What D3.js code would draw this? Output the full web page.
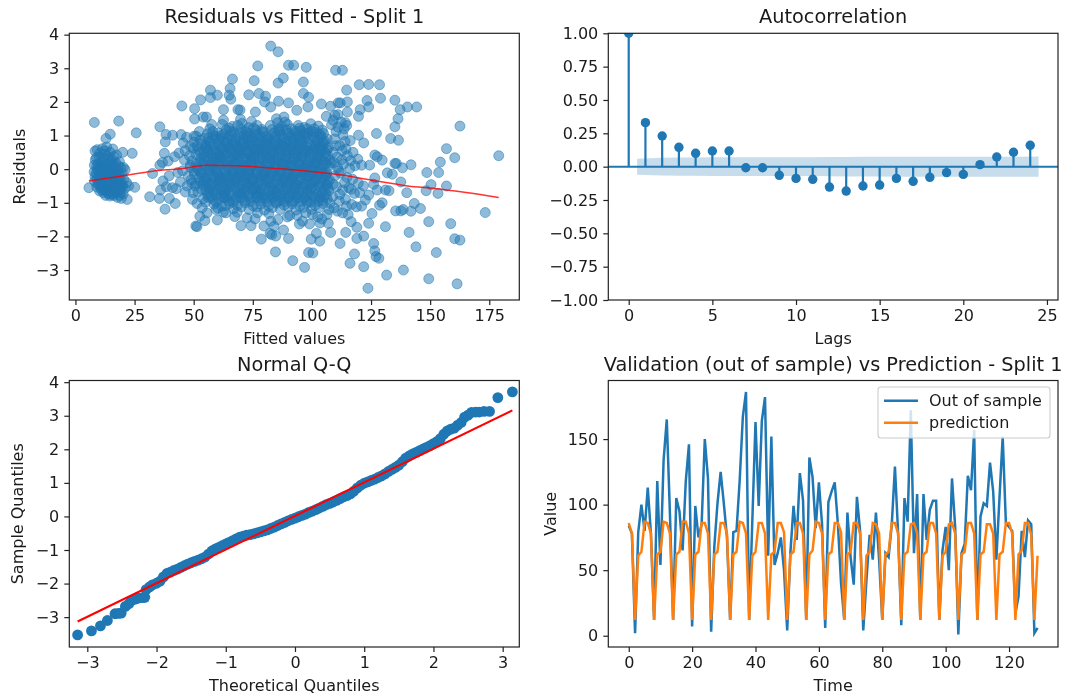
<!DOCTYPE html>
<html lang="en">
<head>
<meta charset="utf-8">
<script src="https://d3js.org/d3.v7.min.js"></script>
<style>
  body { margin: 0; background: #fff; }
  svg { display: block; filter: blur(0.5px); }
  text { font-family: "DejaVu Sans", sans-serif; fill: #1a1a1a; }
</style>
</head>
<body>
<script>
// residuals vs fitted, [fitted, residual] (the dense middle is estimated)
var residOuter = [
[5.7,-.55],[8,1.39],[18.3,1.43],[25.7,1.08],[14.7,1.04],[12.9,.91],[8.3,.54],[20,.5],[24,.47],[25.1,-.54],[21.9,-.9],
[82.6,3.66],[85.7,3.49],[77.1,3.07],[90.1,3.09],[92.3,3.09],[97.6,3.03],[110,2.94],[112.9,2.94],[87.9,2.71],[85.7,2.56],[75.6,2.63],[66.4,2.68],[96.4,2.59],[120,2.51],[124,2.52],[128.6,2.51],[114.7,2.35],[57.1,2.35],[65.4,2.4],[65,2.2],[77.6,2.25],[73.3,2.21],[96.4,2.25],[80.4,2.17],[57.1,2.13],[60,2.2],[65.7,2.08],[52.9,2.06],[98.6,2.14],[129,2.11],[135.1,2.05],[123.3,2.04],[85.9,2.02],[80,2],[111.1,1.97],[112,1.97],[115,2],[90.1,1.97],[104,1.94],[45,1.88],[140.4,1.85],[144.3,1.85],[107.9,1.87],[124,1.85],[137.3,1.77],[120.4,1.77],[50.4,1.8],[62.6,1.77],[68.7,1.77],[69.6,1.76],[93.6,1.75],[98.3,1.85],[82.6,1.85],[76.1,1.7],[115,1.7],[111,1.62],[119.7,1.57],[136.4,1.5],[50.4,1.49],[54,1.55],[55.4,1.55],[62.6,1.46],[106.1,1.57],[109.7,1.6],[57.6,1.33],[35.7,1.26],[135.1,1.26],[162.6,1.28],[38.3,1.03],[127.3,1.06],[119.7,1.01],[133.3,.91],[136.6,.86],[38,.81],[121.9,.78],[44.7,1.03],[41.1,1.01],[156.9,.61],[160.4,.34],[179,.4],[154.3,.21],[141.9,.13],[135.1,.17],[135.7,.17],[138.3,.04],[126.6,.42],[129.7,.27],[127.6,.37],[124.4,.12],[131.9,-.11],[148.6,-.1],[153.6,-.1],[134,-.15],[126.6,-.26],[126.1,-.45],[137.6,-.38],[150.4,-.46],[156.9,-.5],[127.6,-.62],[131.1,-.62],[132.6,-.64],[140.1,-.7],[148.3,-.64],[153.3,-.72],[124,-.77],[122.6,-.92],[129.7,-1],[128.6,-1.07],[143.3,-1.02],[145.9,-1.17],[135.4,-1.24],[137.6,-1.24],[138.6,-1.2],[141.9,-1.25],[173.3,-1.29],[125.4,-1.32],[149.4,-1.56],[158.7,-1.62],[131.1,-1.71],[124,-1.61],[141.1,-1.88],[160.4,-2.07],[162.6,-2.11],[144,-2.31],[152.6,-2.48],[126.1,-2.21],[126.6,-2.43],[127.1,-2.6],[128.3,-2.65],[121.9,-1.99],[119,-2.06],[111.9,-2.21],[118,-2.52],[116.1,-2.8],[121.9,-2.9],[138.7,-3],[131.6,-3.15],[149.4,-3.26],[161.4,-3.41],[123.7,-3.54],[91.9,-2.72],[96.9,-2.92],[98.6,-2.48],[100.4,-2.49],[84.6,-2.46],[78.6,-2.08],[90.1,-2.06],[99.7,-2.08],[103.3,-2.14],[101.9,-1.91],[107.9,-1.88],[114.3,-1.88],[82.3,-1.91],[84.7,-1.99],[83,-1.95],[88,-1.81],[79.7,-1.69],[70,-1.68],[74.3,-1.68],[50.9,-1.69],[51.4,-1.71],[54.7,-1.53],[60,-1.51],[67.4,-1.41],[52.6,-1.4],[94.7,-1.63],[99,-1.63],[106.9,-1.61],[116.6,-1.56],[119,-1.73],[37.9,-1.19],[42.2,-1.02],[31.4,-.82],[35.5,-.87],[39.7,-.87],[32.6,-.13],[35.7,.12],[37.6,.47],[41.9,.37],[46.1,.27]
];
var residLeft = [
[9.2,.58],[11.4,.61],[13.2,.66],[15.8,.6],[17.4,.42],[8.4,.28],[10.1,.36],[12.3,.44],[14.2,.31],[16.1,.38],[18.6,.22],[20.3,.05],[8,.12],[9.6,.17],[11.2,.22],[13.1,.16],[15.2,.13],[17,.19],[19.2,.04],[7.9,-.08],[9.3,-.03],[10.8,.05],[12.4,-.06],[14.1,-.01],[15.9,-.08],[17.7,-.04],[19.8,-.13],[21,-.02],[8.3,-.22],[9.9,-.17],[11.5,-.24],[13.4,-.15],[15.1,-.26],[16.8,-.19],[18.5,-.27],[20.4,-.3],[8.1,-.36],[9.4,-.41],[11,-.33],[12.7,-.42],[14.5,-.36],[16.2,-.44],[18,-.38],[19.6,-.46],[21.6,-.4],[9,-.53],[10.6,-.5],[12.2,-.58],[13.9,-.51],[15.6,-.6],[17.3,-.54],[19,-.62],[20.8,-.58],[22.5,-.5],[10.2,-.65],[11.8,-.7],[13.5,-.66],[15.1,-.75],[16.9,-.69],[18.6,-.78],[20.2,-.74],[12.8,-.78],[14.6,-.8],[17.8,-.84],[19.4,-.87],
[9.6,.03],[11.7,.08],[13.8,.04],[16.3,.02],[10.4,-.12],[12.9,-.19],[14.8,-.12],[17.1,-.14],[10.1,-.27],[12,-.3],[13.9,-.29],[16,-.33],[17.9,-.22],[10.8,-.44],[13.2,-.5],[15.1,-.48],[17,-.46],[18.8,-.52],[11.4,-.58],[14.3,-.6],[16.4,-.63],[18,-.66],[12.6,-.65],[15.8,-.72],
[9,.1],[10.9,.14],[12.6,.09],[14.7,.2],[16.6,.1],[18.1,.1],[8.7,-.12],[11,-.16],[13.3,-.05],[15.4,-.18],[18.6,-.15],[9.2,-.3],[11.2,-.42],[13.6,-.38],[15.5,-.38],[17.5,-.31],[19.3,-.36],[9.7,-.47],[12,-.5],[14.2,-.45],[16,-.53],[18.2,-.57],[20,-.5],[11,-.62],[13,-.6],[14.9,-.66],[17,-.62],[19.2,-.7],[13.9,-.73],[16.2,-.78],[8.9,.34],[11.6,.32],[13.6,.38],[15.5,.28],[10.4,.48],[12.4,.54],[14.7,.5]
];
var residSides = [
[36,-.62],[38.4,-.52],[41,-.55],[42.6,-.58],[37,-.35],[39.6,-.2],[43.3,-.1],[36.8,.2],[39.2,.24],[43.8,.48],[45.6,.78],[47,.95],[46.4,.55],[48.2,.4],[44.4,-.38],[46.5,-.68],[47.7,-.2],[45.3,-.05],[48.6,.12],[49.2,-.42],[49.5,-.9],[48.6,.68],[50.2,.98],[49.8,-.7],[47.2,-.5],[51.4,-1.02],[53.6,-1.15],[55.6,-1.3],
[108.3,1.32],[110.2,1.12],[112.4,1.4],[114.7,1.3],[116.2,.85],[113.1,1.02],[109.6,.9],[111.7,.7],[114,.82],[108.8,.5],[110.7,.36],[112.8,.55],[115,.4],[117.4,.5],[119.4,.3],[121,.12],[118.2,.1],[116,.02],[113.4,.15],[110.9,.05],[108.2,.18],[109.7,-.2],[112.1,-.12],[114.8,-.25],[117.2,-.3],[119.6,-.42],[121.8,-.5],[110.4,-.52],[113,-.62],[115.6,-.55],[118,-.72],[120.2,-.7],[108.7,-.82],[111.6,-.95],[114.2,-.9],[116.8,-1.05],[118.8,-1.12],[109.4,-1.15],[113,-1.3],[115.3,-1.35],[121,-1.1],[106.4,-1.35],[104.2,-1.48],[102.4,-1.42],[107.2,-1.2],[100.2,-1.35],[97.4,-1.3],[93.8,-1.38],[89.6,-1.42],[85.6,-1.5],[81.8,-1.32],[77,-1.3],[72.6,-1.45],[68.4,-1.28],[63.6,-1.3],[59.4,-1.2],[62.5,-1.28],[76,-1.48],[82.6,-1.55],[84,-1.7],[90.6,-1.38],[96,-1.55],[103.4,-1.6],
[109,1.45],[111,1.25],[113.6,1.2],[114.2,1.38],[110,.7],[112.6,.28],[114.4,.6],[116.4,.25],[109.3,.2],[111.4,-.05],[113.8,-.4],[116.5,-.6],[109,-.45],[111.8,-.75],[114.6,-1.1],[107.6,-1.02],[110.8,-1.25]
];
var residCore = [
[62.1,1.33],[66.3,1.27],[70.4,1.36],[73.2,1.24],[76.8,1.3],[85.5,1.38],[87.3,1.26],[89.6,1.33],[94.2,1.3],[96.8,1.24],[99.5,1.35],[102.7,1.28],[85,1.5],[69.8,1.48],[74.4,1.42],[88.2,1.55],
[52.4,1.12],[56.8,1.2],[60.3,1.08],[63.7,1.17],[66.9,1.1],[70.2,1.19],[73.6,1.06],[76.3,1.16],[79.5,1.09],[83.1,1.18],[86.4,1.1],[89.2,1.17],[92.7,1.06],[95.3,1.14],[98.1,1.2],[101.6,1.09],[104.4,1.16],
[51.1,.98],[54.6,.92],[58.2,1.01],[61.4,.93],[64.8,.99],[68.1,.91],[71.3,1],[74.9,.94],[78.2,.98],[81.6,.9],[84.7,1],[87.9,.93],[91.3,.99],[94.6,.91],[97.7,1],[100.8,.94],[103.9,.98],[106.5,.9],
[50.2,.8],[53.3,.75],[56.7,.83],[60,.76],[63.2,.82],[66.4,.74],[69.7,.84],[73.1,.77],[76.4,.81],[79.8,.73],[83,.83],[86.1,.75],[89.5,.82],[92.8,.76],[96,.84],[99.3,.74],[102.4,.8],[105.6,.76],
[49.8,.62],[52.1,.57],[55.4,.64],[58.8,.58],[62,.66],[65.3,.59],[68.6,.63],[71.9,.56],[75.2,.65],[78.5,.6],[81.8,.66],[85.1,.57],[88.3,.63],[91.6,.58],[94.9,.66],[98.2,.56],[101.3,.63],[104.6,.59],[107,.64],
[50.9,.44],[54.2,.39],[57.5,.47],[60.9,.41],[64.1,.48],[67.4,.4],[70.7,.46],[74,.38],[77.3,.47],[80.6,.42],[83.9,.48],[87.2,.39],[90.4,.45],[93.7,.41],[97,.48],[100.2,.38],[103.5,.46],[106.6,.41],
[49.4,.25],[52.7,.21],[56,.29],[59.3,.23],[62.6,.3],[65.9,.22],[69.2,.28],[72.5,.2],[75.8,.29],[79.1,.24],[82.4,.3],[85.7,.21],[88.9,.27],[92.2,.23],[95.5,.3],[98.8,.2],[102,.28],[105.2,.22],[107.6,.27],
[48.6,.06],[51.5,.03],[54.8,.11],[58.1,.05],[61.3,.12],[64.6,.04],[67.9,.1],[71.2,.02],[74.5,.11],[77.8,.06],[81.1,.12],[84.4,.03],[87.7,.09],[91,.05],[94.3,.12],[97.5,.02],[100.7,.1],[104,.04],[107.1,.09],
[50.3,-.14],[53.6,-.08],[56.9,-.16],[60.2,-.1],[63.5,-.17],[66.8,-.09],[70.1,-.15],[73.4,-.07],[76.7,-.16],[80,-.11],[83.3,-.17],[86.6,-.08],[89.8,-.14],[93.1,-.1],[96.4,-.17],[99.7,-.07],[102.9,-.15],[106.1,-.09],
[48.9,-.32],[52.2,-.27],[55.5,-.34],[58.8,-.28],[62.1,-.35],[65.4,-.27],[68.7,-.33],[72,-.25],[75.3,-.34],[78.6,-.29],[81.9,-.35],[85.2,-.26],[88.4,-.32],[91.7,-.28],[95,-.35],[98.3,-.25],[101.5,-.33],[104.8,-.27],[107.4,-.32],
[50.6,-.5],[53.9,-.45],[57.2,-.52],[60.5,-.46],[63.8,-.53],[67.1,-.45],[70.4,-.51],[73.7,-.43],[77,-.52],[80.3,-.47],[83.6,-.53],[86.9,-.44],[90.1,-.5],[93.4,-.46],[96.7,-.53],[100,-.43],[103.2,-.51],[106.3,-.45],
[51.8,-.68],[55.1,-.63],[58.4,-.7],[61.7,-.64],[65,-.71],[68.3,-.63],[71.6,-.69],[74.9,-.61],[78.2,-.7],[81.5,-.65],[84.8,-.71],[88.1,-.62],[91.3,-.68],[94.6,-.64],[97.9,-.71],[101.2,-.61],[104.4,-.69],[107.2,-.64],
[54,-.88],[57.3,-.83],[60.6,-.9],[63.9,-.84],[67.2,-.91],[70.5,-.83],[73.8,-.89],[77.1,-.81],[80.4,-.9],[83.7,-.85],[87,-.91],[90.3,-.82],[93.5,-.88],[96.8,-.84],[100.1,-.91],[103.3,-.81],[106.5,-.89],
[58.6,-1.04],[61.9,-1.1],[65.2,-1.02],[68.5,-1.08],[71.8,-1],[75.1,-1.09],[78.4,-1.04],[81.7,-1.1],[85,-1.01],[88.3,-1.07],[91.6,-1.03],[94.8,-1.1],[98.1,-1],[101.4,-1.08],[104.7,-1.02],
// second pass over the solid part
[55.2,.72],[58.9,.9],[62.7,.52],[66.1,.86],[69.9,.53],[73.5,.7],[77.6,.54],[80.9,.88],[84.3,.72],[88.7,.5],[92.1,.86],[95.6,.73],[99.1,.52],[102.8,.7],
[53,.32],[56.6,.1],[59.9,.34],[63.4,.14],[67,.34],[70.6,.12],[74.2,.32],[77.9,.14],[81.3,.36],[85,.13],[88.6,.34],[92.3,.13],[95.9,.37],[99.5,.12],[103.1,.34],[106,.16],
[52,-.02],[55.8,-.22],[59.4,-.02],[63,-.24],[66.6,-.02],[70.3,-.22],[73.9,-.02],[77.4,-.24],[81,-.03],[84.7,-.21],[88.2,-.02],[91.9,-.22],[95.4,-.03],[99,-.2],[102.6,-.02],[105.8,-.2],
[53.1,-.38],[56.7,-.59],[60.3,-.38],[63.9,-.6],[67.5,-.38],[71.1,-.58],[74.7,-.36],[78.3,-.6],[81.9,-.43],[85.5,-.57],[89.1,-.4],[92.7,-.58],[96.3,-.42],[99.9,-.56],[103.5,-.4],[106.8,-.56],
[55.9,-.76],[59.5,-.98],[63.1,-.76],[66.7,-.98],[70.3,-.74],[73.9,-.96],[77.5,-.75],[81.1,-.98],[84.7,-.78],[88.3,-.96],[91.9,-.76],[95.5,-.96],[99.1,-.75],[102.7,-.96],[106,-.76],
[57.8,.4],[64.4,.7],[71.4,.12],[75.9,.44],[82.8,.2],[86.5,.6],[93.2,.5],[97.2,.14],[60.8,-.2],[65.6,-.5],[72.3,-.4],[79.4,-.16],[83.8,-.62],[90.5,-.27],[94.2,-.77],[100.7,-.32],[68.8,-.74],[76.2,-.58],[86.9,-.74],[98,-.6],
[54.4,.54],[61.1,.22],[68,.5],[72.8,.9],[79.9,.6],[87.4,.88],[90.6,.18],[94.9,1.02],[103.8,.54],[56.2,-.42],[62.8,-.86],[69.4,-.05],[75.4,-.62],[82.2,-.8],[89.9,-.6],[97.6,-.2],[104.9,-.82],
[70.9,.72],[78.8,.82],[84.1,.42],[91.1,.7],[58.5,.12],[66.4,.14],[74.8,.08],[81.6,.04],[89,.1],[96.2,.04],[101.9,.2],[60,-.62],[67.8,-.2],[73,-.14],[80.7,-.3],[87.8,-.3],[93.3,-.46],[100.4,-.14],[64.6,-.32],[71.7,-.62],[78.9,-.86],[86,-.94],[92.4,-.94],[99.6,-.98],
// third pass
[64.9,1.22],[68.6,1.3],[72,1.15],[75.4,1.22],[78.9,1.18],[82.4,1.3],[85.9,1.2],[88.6,1.4],[91.4,1.2],[94.8,1.22],[98.4,1.08],[101,1.2],[103.2,1.05],
[55.8,1.05],[59.4,.98],[62.9,1.04],[66,1.02],[69.5,1.08],[73,.96],[76.8,1.04],[80.6,.98],[84,1.08],[87.1,1.02],[90.4,1.07],[93.8,.98],[96.9,1.08],[100.2,1.02],[104.9,1.06],
[52.8,.86],[56.2,.92],[60.9,.86],[64.3,.9],[67.6,.8],[71,.88],[74.4,.84],[77.4,.9],[81,.8],[84.6,.88],[88.4,.8],[91.8,.92],[95,.82],[98.6,.9],[102,.86],[105.3,.84],
[51.4,.68],[54.9,.62],[58,.7],[61.5,.62],[64.7,.64],[68.4,.7],[71.6,.66],[74.9,.56],[78.1,.7],[81.2,.6],[84.6,.66],[87.9,.7],[91.2,.64],[94.5,.58],[97.8,.68],[100.9,.6],[104.2,.68],[106.4,.58],
[52.6,.5],[56.1,.52],[59.5,.46],[62.9,.42],[66.2,.5],[69.5,.4],[72.8,.48],[76.1,.54],[79.4,.44],[82.7,.52],[86,.44],[89.3,.54],[92.6,.46],[95.9,.52],[99.2,.44],[102.5,.54],[105.8,.48],
[51.2,.16],[54.5,.24],[57.8,.2],[61.1,.33],[64.4,.24],[67.7,.18],[71,.3],[74.3,.24],[77.6,.2],[80.9,.3],[84.2,.24],[87.5,.18],[90.8,.3],[94.1,.22],[97.4,.27],[100.7,.2],[104,.26],
[50.1,-.06],[53.4,-.15],[56.7,-.04],[60,-.16],[63.3,-.06],[66.6,-.17],[69.9,-.03],[73.2,-.18],[76.5,-.06],[79.8,-.2],[83.1,-.06],[86.4,-.16],[89.7,-.05],[93,-.18],[96.3,-.06],[99.6,-.16],[102.9,-.06],[106.2,-.14],
[51,-.42],[54.3,-.36],[57.6,-.42],[60.9,-.32],[64.2,-.42],[67.5,-.3],[70.8,-.42],[74.1,-.31],[77.4,-.42],[80.7,-.36],[84,-.44],[87.3,-.34],[90.6,-.42],[93.9,-.32],[97.2,-.44],[100.5,-.36],[103.8,-.42],[106.9,-.36],
[53.4,-.6],[56.5,-.72],[59.8,-.6],[63.1,-.68],[66.4,-.6],[69.7,-.7],[73,-.56],[76.3,-.72],[79.6,-.58],[82.9,-.72],[86.2,-.58],[89.5,-.72],[92.8,-.58],[96.1,-.7],[99.4,-.58],[102.7,-.72],[105.6,-.6],
[55,-.98],[58.3,-.9],[61.6,-.8],[64.9,-.94],[68.2,-.84],[71.5,-.94],[74.8,-.82],[78.1,-.94],[81.4,-.84],[84.7,-.98],[88,-.84],[91.3,-.96],[94.6,-.84],[97.9,-.94],[101.2,-.84],[104.5,-.94],
[60.2,-1.16],[63.5,-1.08],[66.8,-1.18],[70.1,-1.12],[73.4,-1.2],[76.7,-1.12],[80,-1.22],[83.3,-1.14],[86.6,-1.2],[89.9,-1.12],[93.2,-1.22],[96.5,-1.14],[99.8,-1.2],[103.1,-1.14],
// fourth pass, keeps the middle of the cloud close to solid
[58.1,1.12],[61.7,1.0],[65.5,1.13],[68.9,1.0],[72.4,1.1],[75.8,1.0],[79.3,1.12],[82.8,1.0],[86.2,1.17],[89.7,1.04],[93.1,1.13],[96.5,1.0],[99.9,1.12],[103.2,.94],
[57.2,.78],[60.6,.7],[64.0,.79],[67.4,.7],[70.8,.79],[74.2,.71],[77.6,.78],[81,.7],[84.4,.8],[87.8,.71],[91.2,.79],[94.6,.7],[98,.78],[101.4,.71],[104.7,.79],
[55.9,.58],[59.3,.53],[62.7,.6],[66.1,.53],[69.5,.59],[72.9,.52],[76.3,.6],[79.7,.52],[83.1,.59],[86.5,.52],[89.9,.6],[93.3,.53],[96.7,.59],[100.1,.52],[103.5,.6],
[55,.36],[58.4,.3],[61.8,.37],[65.2,.31],[68.6,.38],[72,.32],[75.4,.37],[78.8,.31],[82.2,.38],[85.6,.31],[89,.38],[92.4,.31],[95.8,.38],[99.2,.32],[102.6,.38],[105.8,.33],
[53.8,.16],[57.2,.12],[60.6,.17],[64,.09],[67.4,.17],[70.8,.09],[74.2,.17],[77.6,.1],[81,.17],[84.4,.1],[87.8,.16],[91.2,.1],[94.6,.17],[98,.09],[101.4,.16],[104.8,.11],
[52.9,-.1],[56.3,-.03],[59.7,-.08],[63.1,-.02],[66.5,-.08],[69.9,-.1],[73.3,-.04],[76.7,-.09],[80.1,-.03],[83.5,-.1],[86.9,-.03],[90.3,-.09],[93.7,-.03],[97.1,-.1],[100.5,-.03],[103.9,-.1],
[54.7,-.26],[58.1,-.2],[61.5,-.28],[64.9,-.2],[68.3,-.27],[71.7,-.2],[75.1,-.27],[78.5,-.2],[81.9,-.27],[85.3,-.2],[88.7,-.26],[92.1,-.2],[95.5,-.27],[98.9,-.2],[102.3,-.27],[105.7,-.2],
[55.2,-.52],[58.6,-.46],[62,-.52],[65.4,-.44],[68.8,-.52],[72.2,-.46],[75.6,-.52],[79,-.44],[82.4,-.52],[85.8,-.45],[89.2,-.52],[92.6,-.44],[96,-.52],[99.4,-.45],[102.8,-.52],[106.2,-.46],
[56.1,-.84],[59.5,-.76],[62.9,-.84],[66.3,-.78],[69.7,-.84],[73.1,-.78],[76.5,-.84],[79.9,-.76],[83.3,-.84],[86.7,-.78],[90.1,-.84],[93.5,-.78],[96.9,-.84],[100.3,-.78],[103.7,-.84]
];
var residPoints = residOuter.concat(residLeft, residSides, residCore);
var lowessX = [5.7,19.7,32.6,45.4,55.4,68.3,85.4,96.9,111,125.4,139.7,154,179];
var lowessY = [-.35,-.2,-.06,.02,.12,.1,.02,-.05,-.16,-.33,-.49,-.59,-.84];

// autocorrelation
var acfLags = [0,1,2,3,4,5,6,7,8,9,10,11,12,13,14,15,16,17,18,19,20,21,22,23,24];
var acfValues = [1,.33,.23,.145,.1,.117,.117,-.008,-.008,-.065,-.088,-.095,-.153,-.183,-.145,-.138,-.088,-.11,-.08,-.045,-.058,.015,.072,.108,.16];
var bandX = [.5,2,3,4,5,6,7,8,9,10,11,12,13,14,15,16,17,18,19,20,21,22,23,24.5];
var bandHalf = [.06,.066,.068,.069,.07,.07,.071,.071,.071,.071,.071,.072,.073,.074,.074,.075,.075,.075,.075,.075,.075,.075,.075,.076];

// normal q-q
var qqTheory = [-3.14,-2.94,-2.81,-2.71,-2.6,-2.55,-2.51,-2.45,-2.4,-2.36,-2.3,-2.26,-2.2,-2.17,-2.15,-2.1,-2.06,-2,-1.95,-1.9,-1.85,-1.8,-1.75,-1.7,-1.65,-1.6,-1.55,-1.5,-1.45,-1.4,-1.35,-1.3,-1.25,-1.2,-1.15,-1.1,-1.05,-1,-.95,-.9,-.85,-.8,-.75,-.7,-.65,-.6,-.55,-.5,-.45,-.4,-.35,-.3,-.25,-.2,-.15,-.1,-.05,0,.05,.1,.15,.2,.25,.3,.35,.4,.45,.5,.55,.6,.65,.7,.75,.8,.85,.9,.95,1,1.05,1.1,1.15,1.2,1.25,1.3,1.35,1.4,1.45,1.5,1.55,1.6,1.65,1.7,1.75,1.8,1.85,1.9,1.95,2,2.05,2.1,2.15,2.2,2.25,2.3,2.35,2.4,2.45,2.5,2.55,2.61,2.66,2.73,2.81,2.93,3.14];
var qqSample = [-3.53,-3.41,-3.26,-3.1,-2.9,-2.89,-2.88,-2.68,-2.6,-2.5,-2.46,-2.43,-2.42,-2.41,-2.18,-2.1,-2.04,-1.99,-1.93,-1.8,-1.7,-1.66,-1.61,-1.57,-1.52,-1.47,-1.42,-1.38,-1.34,-1.3,-1.26,-1.21,-1.12,-1.03,-.97,-.92,-.87,-.82,-.77,-.72,-.67,-.62,-.59,-.56,-.54,-.52,-.49,-.46,-.43,-.4,-.36,-.32,-.27,-.22,-.18,-.13,-.09,-.05,-.01,.03,.07,.12,.16,.2,.25,.3,.35,.39,.43,.48,.53,.58,.62,.67,.75,.85,.93,.99,1.03,1.07,1.11,1.16,1.21,1.27,1.34,1.4,1.46,1.53,1.63,1.74,1.8,1.86,1.91,1.96,2.01,2.06,2.11,2.17,2.23,2.32,2.45,2.55,2.6,2.63,2.72,2.8,2.96,3.02,3.1,3.11,3.11,3.13,3.13,3.54,3.71];
var qqLineX = [-3.14,3.14];
var qqLineY = [-3.13,3.16];

// validation vs prediction
var outOfSample = [84,78,2,79,100,80,113,78,12,118,54,134,165,93,12,105,95,65,118,146,7,99,75,85,150,120,3,68,101,125,101,75,12,79,80,118,167,186,12,88,163,99,164,182,61,152,54,63,75,50,4,63,99,73,124,103,12,136,121,82,117,85,6,102,110,117,85,40,12,94,60,39,106,80,4,42,77,58,94,58,12,63,60,85,129,78,8,105,87,172,63,108,12,108,73,96,103,103,12,65,83,50,120,83,1,63,70,122,111,157,12,91,101,99,132,110,58,106,152,86,83,80,17,30,80,60,88,85,2,6];
var prediction = [
86,78,12,61,64,87,
86,78,12,62,64,87,
86,78,12,62,64,87,
87,78,12,62,64,86,
86,78,12,62,64,86,
86,78,12,62,64,87,
86,78,12,61,64,86,
86,78,12,62,64,86,
86,79,12,62,64,86,
86,78,12,62,65,87,
86,78,12,62,64,86,
86,79,12,62,64,86,
86,78,12,61,64,86,
85,78,12,62,64,86,
86,78,12,62,64,85,
86,78,12,62,64,86,
86,78,12,61,64,85,
86,78,12,62,64,86,
86,78,12,62,64,85,
85,78,12,62,64,86,
86,78,12,62,65,86,
86,77,12,61];

var blue = "#1f77b4", orange = "#ff7f0e";
var w = 1065, h = 695;
var svg = d3.select("body").append("svg").attr("width", w).attr("height", h);
var minus = function(s) { return s.replace("-", "\u2212"); };

function panel(id, box, xDom, yDom, xTicks, yTicks, yFmt, title, xLab, yLab, yLabX) {
  var x = d3.scaleLinear().domain(xDom).range([box[0], box[1]]);
  var y = d3.scaleLinear().domain(yDom).range([box[3], box[2]]);
  svg.append("clipPath").attr("id", id).append("rect")
    .attr("x", box[0]).attr("y", box[2]).attr("width", box[1] - box[0]).attr("height", box[3] - box[2]);
  var plot = svg.append("g").attr("clip-path", "url(#" + id + ")");

  var ax = svg.append("g").attr("transform", "translate(0," + box[3] + ")")
    .call(d3.axisBottom(x).tickValues(xTicks).tickSize(5).tickPadding(5).tickSizeOuter(0)
      .tickFormat(function(d) { return minus(String(d)); }));
  var ay = svg.append("g").attr("transform", "translate(" + box[0] + ",0)")
    .call(d3.axisLeft(y).tickValues(yTicks).tickSize(5).tickPadding(5).tickSizeOuter(0)
      .tickFormat(function(d) { return minus(yFmt(d)); }));
  [ax, ay].forEach(function(a) {
    a.select(".domain").remove();
    a.selectAll("text").style("font-size", "16px").style("font-family", "DejaVu Sans");
    a.selectAll("line").attr("stroke", "#222").attr("stroke-width", 1.2);
  });
  // frame goes on top, drawn last by caller
  var frame = function() {
    svg.append("rect").attr("x", box[0]).attr("y", box[2])
      .attr("width", box[1] - box[0]).attr("height", box[3] - box[2])
      .attr("fill", "none").attr("stroke", "#222").attr("stroke-width", 1.2);
  };
  var cx = (box[0] + box[1]) / 2;
  svg.append("text").attr("x", cx).attr("y", box[2] - 10).attr("text-anchor", "middle")
    .style("font-size", "19.3px").text(title);
  svg.append("text").attr("x", cx).attr("y", box[3] + 44).attr("text-anchor", "middle")
    .style("font-size", "16px").text(xLab);
  if (yLab) {
    svg.append("text").attr("transform", "translate(" + yLabX + "," + ((box[2] + box[3]) / 2) + ") rotate(-90)")
      .attr("text-anchor", "middle").style("font-size", "16px").text(yLab);
  }
  return { x: x, y: y, plot: plot, frame: frame };
}

var f0 = function(d) { return String(d); };

// top left
var p1 = panel("c1", [69.3, 519.3, 33.3, 300], [-2.6, 187.7], [-3.89, 4.04],
  [0, 25, 50, 75, 100, 125, 150, 175], [-3, -2, -1, 0, 1, 2, 3, 4], f0,
  "Residuals vs Fitted - Split 1", "Fitted values", "Residuals", 25);
p1.plot.selectAll("circle").data(residPoints).enter().append("circle")
  .attr("cx", function(d) { return p1.x(d[0]); })
  .attr("cy", function(d) { return p1.y(d[1]); })
  .attr("r", 5).attr("fill", blue).attr("fill-opacity", 0.5)
  .attr("stroke", blue).attr("stroke-opacity", 0.5).attr("stroke-width", 1);
p1.plot.append("path").datum(lowessX)
  .attr("d", d3.line().curve(d3.curveMonotoneX)
    .x(function(d) { return p1.x(d); })
    .y(function(d, i) { return p1.y(lowessY[i]); }))
  .attr("fill", "none").attr("stroke", "red").attr("stroke-opacity", 0.8).attr("stroke-width", 1.5);
p1.frame();

// top right
var p2 = panel("c2", [608.3, 1058, 33.3, 300], [-1.22, 25.66], [-1, 1],
  [0, 5, 10, 15, 20, 25], [-1, -.75, -.5, -.25, 0, .25, .5, .75, 1], d3.format(".2f"),
  "Autocorrelation", "Lags", null, 0);
p2.plot.append("path").datum(bandX)
  .attr("d", d3.area()
    .x(function(d) { return p2.x(d); })
    .y0(function(d, i) { return p2.y(-bandHalf[i]); })
    .y1(function(d, i) { return p2.y(bandHalf[i]); }))
  .attr("fill", blue).attr("fill-opacity", 0.25);
p2.plot.append("line").attr("x1", p2.x(-1.22)).attr("x2", p2.x(25.66))
  .attr("y1", p2.y(0)).attr("y2", p2.y(0)).attr("stroke", blue).attr("stroke-width", 2);
p2.plot.selectAll("line.stem").data(acfLags).enter().append("line").attr("class", "stem")
  .attr("x1", function(d) { return p2.x(d); }).attr("x2", function(d) { return p2.x(d); })
  .attr("y1", p2.y(0)).attr("y2", function(d, i) { return p2.y(acfValues[i]); })
  .attr("stroke", blue).attr("stroke-width", 2.2);
p2.plot.selectAll("circle").data(acfLags).enter().append("circle")
  .attr("cx", function(d) { return p2.x(d); })
  .attr("cy", function(d, i) { return p2.y(acfValues[i]); })
  .attr("r", 4.7).attr("fill", blue);
p2.frame();

// bottom left
var p3 = panel("c3", [69.3, 519.3, 380.5, 647], [-3.26, 3.24], [-3.89, 4.05],
  [-3, -2, -1, 0, 1, 2, 3], [-3, -2, -1, 0, 1, 2, 3, 4], f0,
  "Normal Q-Q", "Theoretical Quantiles", "Sample Quantiles", 23);
p3.plot.selectAll("circle").data(qqTheory).enter().append("circle")
  .attr("cx", function(d) { return p3.x(d); })
  .attr("cy", function(d, i) { return p3.y(qqSample[i]); })
  .attr("r", 5.4).attr("fill", blue);
p3.plot.append("path").datum(qqLineX)
  .attr("d", d3.line().x(function(d) { return p3.x(d); }).y(function(d, i) { return p3.y(qqLineY[i]); }))
  .attr("fill", "none").attr("stroke", "red").attr("stroke-width", 2.1);
p3.frame();

// bottom right
var p4 = panel("c4", [608.3, 1058, 380.5, 647], [-6.45, 135.45], [-8.6, 194.7],
  [0, 20, 40, 60, 80, 100, 120], [0, 50, 100, 150], f0,
  "Validation (out of sample) vs Prediction - Split 1", "Time", "Value", 556);
var lineFor = function(vals) {
  return d3.line().x(function(d, i) { return p4.x(i); }).y(function(d) { return p4.y(d); })(vals);
};
p4.plot.append("path").attr("d", lineFor(outOfSample)).attr("fill", "none").attr("stroke", blue).attr("stroke-width", 2.5);
p4.plot.append("path").attr("d", lineFor(prediction)).attr("fill", "none").attr("stroke", orange).attr("stroke-width", 2.5);

// legend
var legendNames = ["Out of sample", "prediction"];
var legendColors = [blue, orange];
svg.append("rect").attr("x", 878).attr("y", 387).attr("width", 172).attr("height", 51).attr("rx", 3)
  .attr("fill", "#fff").attr("fill-opacity", 0.8).attr("stroke", "#ccc").attr("stroke-width", 1.1);
legendNames.forEach(function(name, i) {
  var ly = 400.7 + i * 22;
  svg.append("line").attr("x1", 884).attr("x2", 918).attr("y1", ly).attr("y2", ly)
    .attr("stroke", legendColors[i]).attr("stroke-width", 2.5);
  svg.append("text").attr("x", 929).attr("y", ly + 5.5).style("font-size", "16px").text(name);
});
p4.frame();
</script>
</body>
</html>
